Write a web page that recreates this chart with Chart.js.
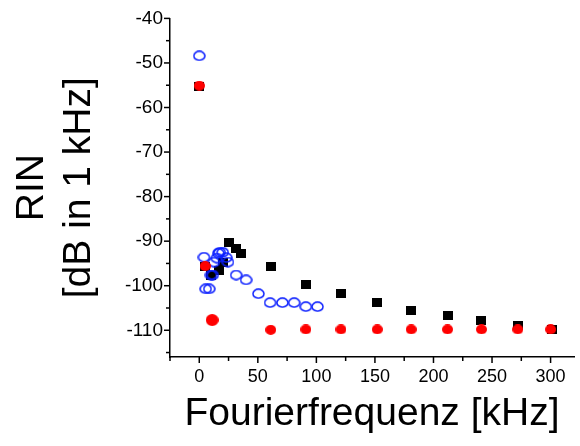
<!DOCTYPE html>
<html>
<head>
<meta charset="utf-8">
<title>RIN</title>
<script src="https://cdn.jsdelivr.net/npm/chart.js@4.4.1/dist/chart.umd.min.js"></script>
<style>
    html, body { margin: 0; padding: 0; background: #fff; }
    canvas { display: block; }
</style>
</head>
<body>
<canvas id="GraficoRin" width="580" height="446"></canvas>
<script>
// Fourierfrequenz in kHz, RIN in dB (1 kHz)
var freqSchwarz = [0, 5, 10, 17, 20, 25, 31, 36, 61, 91, 121, 152, 181, 212, 241, 272, 301];
var rinSchwarz = [-55.3, -95.7, -97.6, -96.6, -94.7, -90.4, -91.6, -92.7, -95.7, -99.7, -101.8, -103.7, -105.6, -106.6, -107.9, -108.9, -109.8];

var freqBlau = [0, 4, 5.5, 8.5, 10, 11.5, 12.5, 15, 16.3, 17.5, 20, 23, 24.5, 31.5, 40, 50.5, 60.5, 71, 81, 91, 101];
var rinBlau = [-48.4, -93.6, -100.7, -100.7, -97.6, -97.6, -94.7, -93.8, -92.7, -92.5, -92.5, -93.7, -94.7, -97.6, -98.7, -101.8, -103.8, -103.8, -103.8, -104.7, -104.7];

var freqRot = [0, 5, 11, 61, 91, 121, 152, 181, 212, 241, 272, 300];
var rinRot = [-55.1, -95.6, -107.7, -109.9, -109.8, -109.8, -109.8, -109.8, -109.8, -109.8, -109.8, -109.8];

var fonte = "'Liberation Sans', Arial, sans-serif";

function Pontos(xs, ys) {
    var pontos = [];
    var indice = 0;
    while (indice < xs.length) {
        pontos.push({ x: xs[indice], y: ys[indice] });
        indice++;
    }
    return pontos;
}

// small canvases used as point markers
function Marcador(largura, altura, desenhar) {
    var c = document.createElement('canvas');
    c.width = largura;
    c.height = altura;
    desenhar(c.getContext('2d'), largura, altura);
    return c;
}

var elipseAzul = Marcador(13, 11, function (g, w, h) {
    g.strokeStyle = '#0a1eff';
    g.lineWidth = 1.5;
    g.beginPath();
    g.ellipse(w / 2, h / 2, w / 2 - 1, h / 2 - 1, 0, 0, Math.PI * 2);
    g.stroke();
});

var quadradoPreto = Marcador(10, 9, function (g, w, h) {
    g.fillStyle = '#000';
    g.fillRect(0, 0, w, h);
});

var circuloVermelho = Marcador(11, 10, function (g, w, h) {
    g.fillStyle = '#ff0000';
    g.beginPath();
    g.ellipse(w / 2, h / 2, w / 2, h / 2, 0, 0, Math.PI * 2);
    g.fill();
});

var circuloVermelhoGrande = Marcador(13, 12, function (g, w, h) {
    g.fillStyle = '#ff0000';
    g.beginPath();
    g.ellipse(w / 2, h / 2, w / 2, h / 2, 0, 0, Math.PI * 2);
    g.fill();
});

// axis tick marks: long on labelled values, short in between
var marcasEixo = {
    id: 'marcasEixo',
    afterDraw: function (chart) {
        var ctx = chart.ctx;
        var sx = chart.scales.x;
        var sy = chart.scales.y;
        ctx.save();
        ctx.strokeStyle = '#000';
        ctx.lineWidth = 1.5;
        sx.ticks.forEach(function (t) {
            if (t.value % 25 !== 0) return;
            var px = sx.getPixelForValue(t.value);
            var len = t.value % 50 === 0 ? 6 : 4;
            ctx.beginPath();
            ctx.moveTo(px, sx.top);
            ctx.lineTo(px, sx.top + len);
            ctx.stroke();
        });
        sy.ticks.forEach(function (t) {
            if (t.value % 5 !== 0) return;
            var py = sy.getPixelForValue(t.value);
            var len = t.value % 10 === 0 ? 6 : 4;
            ctx.beginPath();
            ctx.moveTo(sy.right, py);
            ctx.lineTo(sy.right - len, py);
            ctx.stroke();
        });
        ctx.restore();
    }
};

new Chart(document.getElementById('GraficoRin'), {
    type: 'scatter',
    data: {
        datasets: [
            {
                label: 'rot',
                data: Pontos(freqRot, rinRot),
                pointStyle: function (c) { return c.dataIndex === 2 ? circuloVermelhoGrande : circuloVermelho; },
                pointRadius: 5
            },
            {
                label: 'blau',
                data: Pontos(freqBlau, rinBlau),
                pointStyle: elipseAzul,
                pointRadius: 5
            },
            {
                label: 'schwarz',
                data: Pontos(freqSchwarz, rinSchwarz),
                pointStyle: quadradoPreto,
                pointRadius: 5
            }
        ]
    },
    options: {
        responsive: false,
        animation: false,
        layout: { padding: { top: 16, right: 0, bottom: 0, left: 0 } },
        plugins: {
            legend: { display: false },
            tooltip: { enabled: false }
        },
        scales: {
            x: {
                type: 'linear',
                min: -25,
                max: 320,
                afterFit: function (escala) { escala.height = 89; },
                border: { color: '#000', width: 1.5 },
                grid: { drawOnChartArea: false, drawTicks: false },
                ticks: {
                    stepSize: 25,
                    includeBounds: false,
                    autoSkip: false,
                    maxRotation: 0,
                    padding: 9,
                    color: '#000',
                    font: { family: fonte, size: 18 },
                    callback: function (v) { return (v % 50 === 0 && v >= 0) ? v : ''; }
                },
                title: {
                    display: true,
                    text: 'Fourierfrequenz [kHz]',
                    color: '#000',
                    font: { family: fonte, size: 39, lineHeight: 1.2 },
                    padding: { top: 0, bottom: 8 }
                }
            },
            y: {
                type: 'linear',
                min: -116,
                max: -40,
                afterFit: function (escala) { escala.width = 170; },
                border: { color: '#000', width: 1.5 },
                grid: { drawOnChartArea: false, drawTicks: false },
                ticks: {
                    stepSize: 5,
                    includeBounds: false,
                    autoSkip: false,
                    padding: 7,
                    color: '#000',
                    font: { family: fonte, size: 19 },
                    callback: function (v) { return v % 10 === 0 ? v : ''; }
                },
                title: {
                    display: true,
                    text: ['RIN', '[dB in 1 kHz]'],
                    color: '#000',
                    font: { family: fonte, size: 39, lineHeight: 1.2 },
                    padding: { top: 9, bottom: 0 }
                }
            }
        }
    },
    plugins: [marcasEixo]
});
</script>
</body>
</html>
